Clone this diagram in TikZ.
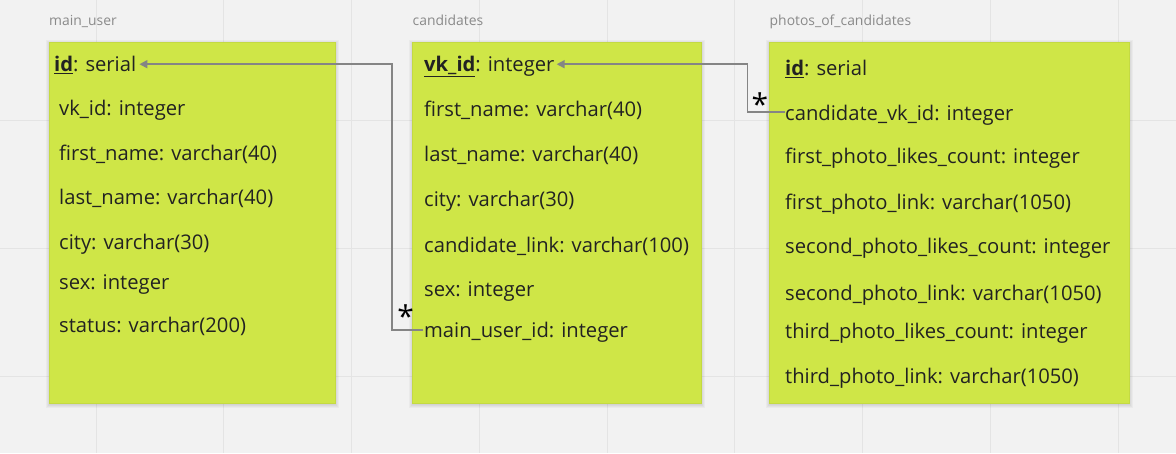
\documentclass[tikz,border=0pt]{standalone}
\usepackage{fontspec}
\setmainfont{Open Sans}
\usetikzlibrary{arrows.meta,calc}

\definecolor{canvas}{HTML}{F2F2F2}
\definecolor{gridline}{HTML}{E4E4E4}
\definecolor{sticky}{RGB}{207,230,71}
\definecolor{stickyedge}{RGB}{196,218,66}
\definecolor{ink}{HTML}{222222}
\definecolor{caption}{HTML}{8A8A8A}
\definecolor{wire}{HTML}{858585}

% primary key: bold and underlined
\newcommand{\pkey}[1]{\underline{\textbf{#1}}}

\begin{document}
\begin{tikzpicture}[x=1pt,y=-1pt,
  field/.style={anchor=base west, inner sep=0pt, text=ink, font=\fontsize{20.2}{22}\selectfont},
  tabletitle/.style={anchor=base west, inner sep=0pt, text=caption, font=\fontsize{13.9}{15}\selectfont},
  tablebox/.style={anchor=north west, fill=sticky, draw=stickyedge, line width=0.5pt, inner sep=0pt},
  conn/.style={draw=wire, line width=1.6pt, -{Triangle[length=8pt,width=8pt]}},
  many/.style={anchor=base, inner sep=0pt, text=black, font=\fontsize{30}{32}\selectfont}
]
% canvas and grid
\fill[canvas] (0,0) rectangle (1176,453);
\useasboundingbox (0,0) rectangle (1176,453);
\foreach \gx in {0,...,8} \draw[gridline, line width=1pt] ({96+127.75*\gx},0) -- ++(0,453);
\foreach \gy in {120,248,376} \draw[gridline, line width=1pt] (0,\gy) -- (1176,\gy);

% soft shadows under the tables
\foreach \lx/\rx in {49/335,412/701,769/1129}{
  \foreach \s in {1,2,3,4}{
    \fill[black, opacity=0.03] (\lx-\s+1, 42-\s+2) rectangle (\rx+\s, 403+\s+1);
  }
}

% tables
\node[tablebox, minimum width=286pt, minimum height=361pt] (mainuser) at (49,42) {};
\node[tablebox, minimum width=289pt, minimum height=361pt] (candidates) at (412,42) {};
\node[tablebox, minimum width=360pt, minimum height=361pt] (photos) at (769,42) {};

% table titles
\node[tabletitle] (t-mu) at (49,25.5) {main\_user};
\node[tabletitle] (t-c) at (412.5,25.5) {candidates};
\node[tabletitle] (t-p) at (769.5,25.5) {photos\_of\_candidates};

% main_user fields
\node[field] (mu-id)     at (54,71.7)  {\pkey{id}: serial};
\node[field] (mu-vkid)   at (59,115.5) {vk\_id: integer};
\node[field] (mu-first)  at (59,160)   {first\_name: varchar(40)};
\node[field] (mu-last)   at (59,204)   {last\_name: varchar(40)};
\node[field] (mu-city)   at (59,249)   {city: varchar(30)};
\node[field] (mu-sex)    at (59,289)   {sex: integer};
\node[field] (mu-status) at (59,332.5) {status: varchar(200)};

% candidates fields
\node[field] (c-vkid)  at (424,71.7)  {\pkey{vk\_id}: integer};
\node[field] (c-first) at (424,116)   {first\_name: varchar(40)};
\node[field] (c-last)  at (424,161.5) {last\_name: varchar(40)};
\node[field] (c-city)  at (424,206.5) {city: varchar(30)};
\node[field] (c-link)  at (424,252.5) {candidate\_link: varchar(100)};
\node[field] (c-sex)   at (424,296)   {sex: integer};
\node[field] (c-muid)  at (424,337.5) {main\_user\_id: integer};

% photos_of_candidates fields
\node[field] (p-id)     at (785,75.5)  {\pkey{id}: serial};
\node[field] (p-cvkid)  at (785,120)   {candidate\_vk\_id: integer};
\node[field] (p-l1)     at (785,163.5) {first\_photo\_likes\_count: integer};
\node[field] (p-k1)     at (785,209.5) {first\_photo\_link: varchar(1050)};
\node[field] (p-l2)     at (785,253.5) {second\_photo\_likes\_count: integer};
\node[field] (p-k2)     at (785,300)   {second\_photo\_link: varchar(1050)};
\node[field] (p-l3)     at (785,338.3) {third\_photo\_likes\_count: integer};
\node[field] (p-k3)     at (785,383.3) {third\_photo\_link: varchar(1050)};

% relation end points
\coordinate (mu-in) at ($(mu-id.base east)+(3,-7.5)$);
\coordinate (c-out) at ($(c-muid.base west)+(-1,-7.5)$);
\coordinate (c-in)  at ($(c-vkid.base east)+(2,-7.5)$);
\coordinate (p-out) at ($(p-cvkid.base west)+(0,-8)$);

% relations
\draw[conn] (c-out) -- ++(-31,0) |- (mu-in);
\draw[conn] (p-out) -- ++(-37.5,0) |- (c-in);

% multiplicity marks
\node[many] (m1) at (405.7,327) {*};
\node[many] (m2) at (760,115) {*};
\end{tikzpicture}
\end{document}
